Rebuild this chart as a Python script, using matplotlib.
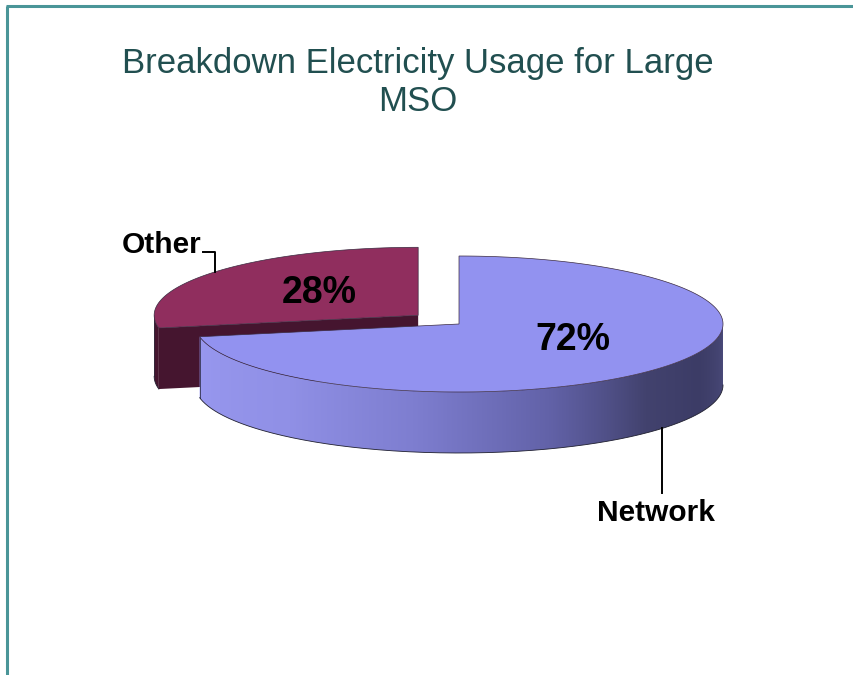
import numpy as np
import matplotlib.pyplot as plt
from matplotlib.patches import Polygon

plt.rcParams['font.family'] = ['Liberation Sans', 'DejaVu Sans']

# data
labels = ['Network', 'Other']
values = [72, 28]
top_colors = ['#9292f0', '#902e5e']
dark_colors = ['#3e3e68', '#45152f']

TITLE = 'Breakdown Electricity Usage for Large\nMSO'

# pie geometry (pixels)
CX, CY = 459, 324
RX, RY = 264, 68
DEPTH = 61
EXPLODE = [0, 53]
START = 90
pct_nudge = [(2, -4), (13, -3)]

# shading of the front wall of the big slice, keyed by angle
shade_ang = [180, 230, 260, 290, 315, 335, 360]
shade_col = ['#9a9af2', '#9090e6', '#7e7ed0', '#6262a8', '#42426e', '#3c3c66', '#4a4a7a']


def hex2rgb(h):
    return np.array([int(h[i:i + 2], 16) / 255 for i in (1, 3, 5)])


shade_rgb = np.array([hex2rgb(c) for c in shade_col])


def pt(cx, cy, t, dz=0):
    r = np.radians(t)
    return cx + RX * np.cos(r), cy - RY * np.sin(r) + dz


fig = plt.figure(figsize=(8.54, 6.75), dpi=100)
ax = fig.add_axes([0, 0, 1, 1])
ax.set_xlim(0, 854)
ax.set_ylim(675, 0)
ax.axis('off')

# frame
ax.plot([6, 854], [6, 6], color='#4a9598', lw=2.2, solid_capstyle='butt')
ax.plot([7.5, 7.5], [6, 675], color='#4a9598', lw=2.2, solid_capstyle='butt')

ax.text(418, 111, TITLE, ha='center', va='baseline', fontsize=25, color='#214f50',
        linespacing=1.18)

# slice angles (clockwise from top)
fr = np.array(values) / sum(values)
slices = []
a = START
for i in range(len(values)):
    a0 = a - fr[i] * 360
    slices.append((a0 % 360, a0 % 360 + fr[i] * 360))
    a = a0

centers = []
for i, (a0, a1) in enumerate(slices):
    mid = np.radians((a0 + a1) / 2)
    centers.append((CX + EXPLODE[i] * np.cos(mid), CY - EXPLODE[i] * np.sin(mid) * RY / RX))

# back slice first
for i in [1, 0]:
    a0, a1 = slices[i]
    cx, cy = centers[i]
    if i != 0:
        # cut face at the start angle faces the viewer
        p1 = pt(cx, cy, a1)
        face = [(cx, cy), p1, (p1[0], p1[1] + DEPTH), (cx, cy + DEPTH)]
        ax.add_patch(Polygon(face, closed=True, fc=dark_colors[i], ec='none'))
    # front wall
    lo = max(a0, 180)
    hi = min(a1, 360)
    if hi > lo:
        ts = np.linspace(lo, hi, 400)
        top = [pt(cx, cy, t) for t in ts]
        bot = [pt(cx, cy, t, DEPTH) for t in ts[::-1]]
        if i == 0:
            wall = Polygon(top + bot, closed=True, fc='none', ec='none')
            ax.add_patch(wall)
            xs = np.linspace(cx - RX, cx + RX, 600)
            ang = 360 - np.degrees(np.arccos(np.clip((xs - cx) / RX, -1, 1)))
            img = np.stack([np.interp(ang, shade_ang, shade_rgb[:, k]) for k in range(3)], axis=-1)
            img = img[None, :, :]
            im = ax.imshow(img, extent=(cx - RX, cx + RX, cy + RY + DEPTH + 2, cy - 2),
                           aspect='auto', interpolation='bilinear', zorder=1)
            im.set_clip_path(wall)
            ax.set_xlim(0, 854)
            ax.set_ylim(675, 0)
        else:
            ax.add_patch(Polygon(top + bot, closed=True, fc=dark_colors[i], ec='none'))
        ax.plot([p[0] for p in bot], [p[1] for p in bot], color='#202030', lw=0.6, zorder=2)
        ax.plot([top[0][0], bot[-1][0]], [top[0][1], bot[-1][1]], color='#202030',
                lw=0.5, zorder=2)
    # top face
    ts = np.linspace(a0, a1, 300)
    topf = [(cx, cy)] + [pt(cx, cy, t) for t in ts]
    ax.add_patch(Polygon(topf, closed=True, fc=top_colors[i], ec='#3a2a40', lw=0.5, zorder=2))

# percentage labels
for i, (a0, a1) in enumerate(slices):
    cx, cy = centers[i]
    lx, ly = pt(cx, cy, (a0 + a1) / 2)
    tx = cx + (lx - cx) * 0.55 + pct_nudge[i][0]
    ty = cy + (ly - cy) * 0.45 + pct_nudge[i][1]
    ax.text(tx, ty, f'{values[i]}%', ha='center', va='center', fontsize=27,
            fontweight='bold', color='black', zorder=3)

# category labels with leaders
a0, a1 = slices[0]
cx, cy = centers[0]
bx, by = pt(cx, cy, (a0 + a1) / 2, DEPTH)
ax.plot([bx, bx], [by, by + 65], color='black', lw=1.4, zorder=3)
ax.text(bx - 6, by + 71, labels[0], ha='center', va='top', fontsize=21.5,
        fontweight='bold')

a0, a1 = slices[1]
cx, cy = centers[1]
ox, oy = pt(cx, cy, (a0 + a1) / 2)
ax.plot([ox - 12, ox, ox], [oy - 20, oy - 20, oy], color='black', lw=1.4, zorder=3)
ax.text(ox - 13, oy - 19, labels[1], ha='right', va='baseline', fontsize=21.5,
        fontweight='bold')

fig.savefig('out.png', dpi=100, facecolor='white')
